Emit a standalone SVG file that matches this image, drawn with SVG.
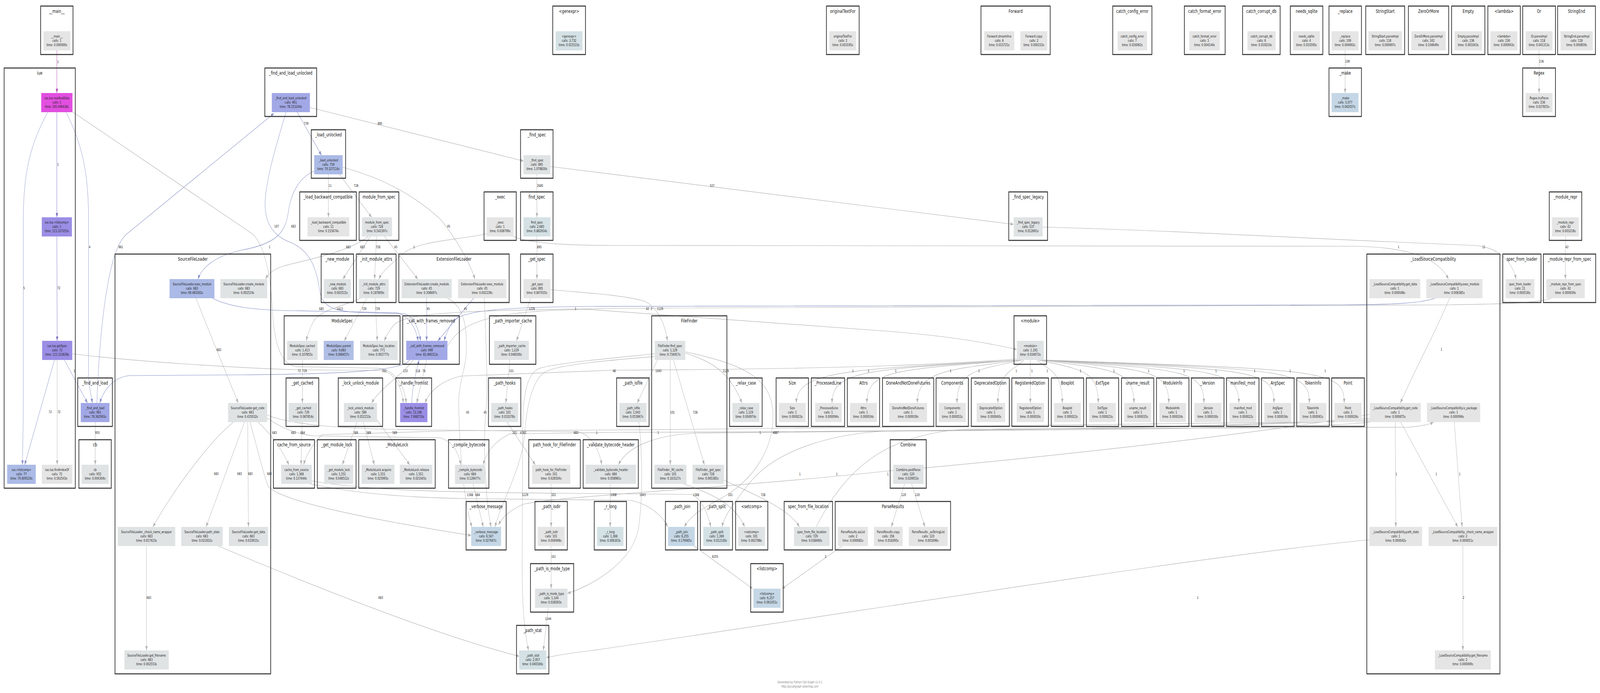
<svg xmlns="http://www.w3.org/2000/svg" width="5963" height="1773" viewBox="0 0 5963 1773" preserveAspectRatio="none" style="width:100%;height:100%;display:block">
<style>
.cl{fill:none;stroke:#333;stroke-width:2.6}
.ct{font-family:"DejaVu Sans",Verdana,sans-serif;font-size:13px;text-anchor:middle;fill:#111}
.nt{font-family:"DejaVu Sans",Verdana,sans-serif;font-size:9.4px;text-anchor:middle;fill:#222}
.el{font-family:"DejaVu Sans",Verdana,sans-serif;font-size:9px;text-anchor:middle;fill:#111}
.ft{font-family:"DejaVu Sans",Verdana,sans-serif;font-size:8.5px;text-anchor:middle;fill:#888}
.e{fill:none;stroke-width:1.2}
.eg{stroke:#b3b3b3;marker-end:url(#ag)}
.eb{stroke:#8891c6;marker-end:url(#ab)}
.ep{stroke:#7c70c2;marker-end:url(#ap)}
.em{stroke:#b64cb3;marker-end:url(#am)}
.g0{fill:#e5e5e5}.g1{fill:#dfe3e4}.g2{fill:#d4e1e5}.g3{fill:#c5d7e6}
.b1{fill:#abbae6}.b2{fill:#a2a8e6}.b3{fill:#b0bee6}.p1{fill:#9b8ee6}.m1{fill:#e24fe0}
</style>
<defs>
<marker id="ag" viewBox="0 0 10 8" refX="10" refY="4" markerWidth="11" markerHeight="9" markerUnits="userSpaceOnUse" orient="auto"><path d="M0,0L10,4L0,8z" fill="#b3b3b3"/></marker>
<marker id="ab" viewBox="0 0 10 8" refX="10" refY="4" markerWidth="11" markerHeight="9" markerUnits="userSpaceOnUse" orient="auto"><path d="M0,0L10,4L0,8z" fill="#8891c6"/></marker>
<marker id="ap" viewBox="0 0 10 8" refX="10" refY="4" markerWidth="11" markerHeight="9" markerUnits="userSpaceOnUse" orient="auto"><path d="M0,0L10,4L0,8z" fill="#7c70c2"/></marker>
<marker id="am" viewBox="0 0 10 8" refX="10" refY="4" markerWidth="11" markerHeight="9" markerUnits="userSpaceOnUse" orient="auto"><path d="M0,0L10,4L0,8z" fill="#b64cb3"/></marker>
</defs>
<rect width="5963" height="1773" fill="#fff"/>
<g id="edges">
<path class="e em" d="M212,129 L212,238"/>
<path class="e ep" d="M212,287 L212,556"/>
<path class="e ep" d="M212,605 L213,872"/>
<path class="e eb" d="M178,287 C120,360 87,430 87,560 L87,1000 C87,1100 84,1150 84,1189"/>
<path class="e eb" d="M246,287 C300,360 330,430 330,560 L330,950 C330,990 340,1010 344,1031"/>
<path class="e eb" d="M203,921 L92,1189"/>
<path class="e eg" d="M213,921 L213,1189"/>
<path class="e eb" d="M240,921 L326,1031"/>
<path class="e eg" d="M270,286 L940,598 C985,625 1008,700 1015,790 C1022,880 1045,928 1100,938 L1410,942 C1475,946 1508,990 1514,1031"/>
<path class="e eg" d="M269,905 C500,925 900,942 1110,946 L1420,948 C1470,952 1498,990 1503,1031"/>
<path class="e eb" d="M361,1031 C368,900 385,760 421,667 C438,630 452,612 470,600 L1021,290"/>
<path class="e eg" d="M355,1080 L355,1189"/>
<path class="e eb" d="M1108,287 L1198,397"/>
<path class="e eg" d="M1155,275 L1951,412"/>
<path class="e eb" d="M1066,287 C1030,370 990,460 988,520 C987,580 1030,605 1075,618 C1160,640 1180,690 1192,745 C1200,790 1260,798 1360,800 L1510,803 C1545,812 1562,845 1567,872"/>
<path class="e eb" d="M1171,438 C1120,452 1085,490 1075,540 C1065,600 1020,625 900,640 C800,655 752,685 738,714"/>
<path class="e eg" d="M1224,446 L1224,556"/>
<path class="e eg" d="M1265,446 L1385,556"/>
<path class="e eg" d="M1277,428 C1450,460 1560,510 1640,560 C1700,610 1750,670 1770,714"/>
<path class="e eg" d="M1372,605 C1300,645 1140,665 1060,680 C1020,688 1000,700 990,714"/>
<path class="e eg" d="M1380,605 L1278,714"/>
<path class="e eg" d="M1403,605 L1396,714"/>
<path class="e eg" d="M1433,605 L1557,714"/>
<path class="e eg" d="M1814,598 C1700,615 1560,615 1500,650 C1450,680 1425,695 1412,714"/>
<path class="e eg" d="M1907,603 C1960,622 2100,628 2300,628 L5050,630 C5250,632 5360,660 5398,714"/>
<path class="e eg" d="M2001,446 L2001,556"/>
<path class="e eg" d="M2001,605 L2001,714"/>
<path class="e eg" d="M2051,426 L3777,574"/>
<path class="e eg" d="M3886,581 C4400,590 5000,615 5500,628 C5600,635 5640,680 5650,714"/>
<path class="e eg" d="M5834,605 L5834,714"/>
<path class="e eg" d="M5013,129 L5013,238"/>
<path class="e eg" d="M5736,129 L5736,238"/>
<path class="e eb" d="M1590,762 L1590,872"/>
<path class="e eb" d="M1766,762 L1632,872"/>
<path class="e eg" d="M1978,762 L1925,872"/>
<path class="e eg" d="M1368,762 L1283,872"/>
<path class="e eg" d="M1398,762 L1406,872"/>
<path class="e eg" d="M1346,762 C1300,780 1200,790 1170,820 C1155,840 1145,858 1142,872"/>
<path class="e eb" d="M790,762 C850,785 950,794 1100,795 L1480,800 C1530,810 1552,845 1558,872"/>
<path class="e eb" d="M5352,762 C5300,776 5200,779 5000,780 L2200,784 C1800,786 1705,800 1682,828 C1668,846 1660,860 1655,872"/>
<path class="e eg" d="M5783,762 C5750,775 5600,778 5400,780 L2500,788 C1700,792 1520,800 1470,830 C1450,845 1440,860 1432,872"/>
<path class="e eg" d="M1668,885 C1720,820 1850,793 2200,792 L3300,847 C3550,860 3700,880 3789,894"/>
<path class="e eg" d="M2051,741 C2150,748 2300,752 2400,770 C2450,785 2480,830 2487,872"/>
<path class="e eg" d="M1127,921 L1127,1031"/>
<path class="e eb" d="M1527,921 C1500,948 1300,957 900,959 L480,961 C420,966 385,1000 372,1031"/>
<path class="e eb" d="M1535,1031 C1535,990 1552,950 1562,921"/>
<path class="e eg" d="M1590,921 L1553,1031"/>
<path class="e eg" d="M1540,921 C1500,960 1420,990 1385,1031"/>
<path class="e eg" d="M3790,918 C3500,935 3000,945 2289,947 L1720,962 C1650,972 1600,1000 1584,1031"/>
<path class="e eg" d="M1900,921 L1885,1031"/>
<path class="e eg" d="M2450,921 L2375,1031"/>
<path class="e eg" d="M2554,903 C2650,925 2720,950 2765,1031"/>
<path class="e eg" d="M3800,921 C3178.6,946 2968,946 2968,1031"/>
<path class="e eg" d="M3800,921 C3236.8,946 3101,946 3101,1031"/>
<path class="e eg" d="M3800,921 C3338.6,946 3231,946 3231,1031"/>
<path class="e eg" d="M3805,921 C3542.7,946 3419,946 3419,1031"/>
<path class="e eg" d="M3810,921 C3648.6,946 3566.6,946 3566.6,1031"/>
<path class="e eg" d="M3815,921 C3787.6,946 3719,946 3719,1031"/>
<path class="e eg" d="M3840,921 L3840,1031"/>
<path class="e eg" d="M3865,921 C3903,946 3959,946 3959,1031"/>
<path class="e eg" d="M3870,921 C4027,946 4093,946 4093,1031"/>
<path class="e eg" d="M3875,921 C4151.6,946 4226,946 4226,1031"/>
<path class="e eg" d="M3880,921 C4280.7,946 4356,946 4356,1031"/>
<path class="e eg" d="M3880,921 C4412.8,946 4486.7,946 4486.7,1031"/>
<path class="e eg" d="M3880,921 C4532,946 4617,946 4617,1031"/>
<path class="e eg" d="M3880,921 C4676,946 4748,946 4748,1031"/>
<path class="e eg" d="M3880,921 C4808,946 4879.6,946 4879.6,1031"/>
<path class="e eg" d="M3880,921 C4938.8,946 5009.7,946 5009.7,1031"/>
<path class="e eg" d="M730,762 C780,850 840,950 888,1031"/>
<path class="e eg" d="M962,1080 C1010,1110 1050,1150 1077,1189"/>
<path class="e eg" d="M1126,1080 L1122,1189"/>
<path class="e eg" d="M996,1070 C1050,1095 1100,1110 1170,1115 L1640,1120 C1690,1130 1710,1160 1717,1189"/>
<path class="e eg" d="M996,1062 C1100,1090 1300,1098 1600,1100 L2150,1104 C2200,1110 2235,1150 2242,1189"/>
<path class="e eg" d="M932,1080 C960,1150 985,1220 1000,1245 C1050,1280 1300,1320 1756,1370"/>
<path class="e eg" d="M870,1080 C780,1130 650,1250 570,1348"/>
<path class="e eg" d="M911,1080 L768,1348"/>
<path class="e eg" d="M923,1080 L926,1348"/>
<path class="e eg" d="M546,1396 L546,1664"/>
<path class="e eg" d="M810,1396 C1100,1480 1600,1620 1935,1679"/>
<path class="e eg" d="M1330,1080 L1276,1189"/>
<path class="e eg" d="M1354,1080 L1395,1189"/>
<path class="e eg" d="M1404,1074 L1527,1189"/>
<path class="e eg" d="M1665,762 C1720,780 1742,820 1738,900 C1735,950 1705,980 1710,1050 C1712,1150 1730,1290 1759,1348"/>
<path class="e eg" d="M1805,762 C1812,900 1820,1000 1810,1055 C1800,1150 1810,1280 1830,1348"/>
<path class="e eg" d="M1763,1237 L1801,1348"/>
<path class="e eg" d="M1150,1237 C1300,1260 1500,1275 1800,1276 L2350,1280 C2420,1290 2470,1320 2488,1348"/>
<path class="e eg" d="M1160,1230 C1350,1255 1700,1260 2100,1262 L2580,1265 C2620,1280 2640,1320 2649,1348"/>
<path class="e eg" d="M2441,905 C2300,915 2050,930 2005,944 C1960,960 1948,1020 1948,1100 L1946,1450 C1946,1550 1955,1620 1970,1664"/>
<path class="e eg" d="M2441,912 C2300,920 2080,932 2030,952 C1980,975 1962,1050 1955,1110 C1945,1200 1870,1280 1845,1348"/>
<path class="e eg" d="M1890,1080 L1995,1189"/>
<path class="e eg" d="M2054,1237 L2054,1348"/>
<path class="e eg" d="M2054,1396 L2054,1506"/>
<path class="e eg" d="M2043,1555 L2025,1664"/>
<path class="e eg" d="M2381,1080 C2390,1130 2400,1250 2380,1350 C2360,1440 2200,1500 2115,1518"/>
<path class="e eg" d="M5104,1381 C4500,1420 3300,1555 2200,1665 C2100,1672 2060,1680 2036,1682"/>
<path class="e eg" d="M2274,1237 L2274,1348"/>
<path class="e eg" d="M2498,921 L2498,1189"/>
<path class="e eg" d="M2510,921 L2625,1189"/>
<path class="e eg" d="M2554,900 C2750,930 2870,960 2880,1050 C2890,1150 2800,1230 2700,1270 C2620,1300 2570,1320 2551,1348"/>
<path class="e eg" d="M2544,1237 C2650,1262 2740,1290 2775,1348"/>
<path class="e eg" d="M2698,1228 C2800,1262 2940,1300 2979,1348"/>
<path class="e eg" d="M2585,1396 L2805,1506"/>
<path class="e eg" d="M3140,1396 L2915,1506"/>
<path class="e eg" d="M3372,1237 L3322,1348"/>
<path class="e eg" d="M3397,1237 L3447,1348"/>
<path class="e eg" d="M3042,1348 C3150,1200 3300,1110 3600,1098 L5250,1093 C5300,1090 5330,1085 5342,1080"/>
<path class="e eg" d="M5110,1079 C5000,1095 4000,1100 3300,1103 C3100,1110 2900,1150 2800,1230 C2730,1290 2700,1320 2691,1348"/>
<path class="e eg" d="M5108,1078 C4500,1092 3000,1098 1700,1102 L1200,1112 C1160,1140 1138,1170 1132,1189"/>
<path class="e eg" d="M5108,1074 C4500,1098 3000,1105 2600,1108 C2450,1112 2340,1140 2305,1189"/>
<path class="e eg" d="M5108,1070 C4500,1100 3000,1105 2300,1106 L1900,1110 C1840,1130 1810,1160 1801,1189"/>
<path class="e eg" d="M5106,1060 C4600,1120 3600,1190 3309,1205 C2700,1250 2100,1268 1950,1290 C1900,1305 1870,1325 1858,1343"/>
<path class="e eg" d="M5403,762 C5350,850 5270,950 5219,1031"/>
<path class="e eg" d="M5200,1080 L5202,1348"/>
<path class="e eg" d="M5220,1080 L5433,1348"/>
<path class="e eg" d="M5420,1080 L5449,1348"/>
<path class="e eg" d="M5452,1396 L5452,1664"/>
<g id="edge-labels">
<text class="el" x="216" y="161">1</text><text class="el" x="216" y="424">1</text><text class="el" x="219" y="740">72</text><text class="el" x="90" y="740">5</text><text class="el" x="334" y="635">4</text><text class="el" x="187" y="1057">72</text><text class="el" x="220" y="1057">72</text><text class="el" x="277" y="952">1</text><text class="el" x="1005" y="635">1</text><text class="el" x="1115" y="952">72</text><text class="el" x="450" y="635">961</text><text class="el" x="363" y="1110">955</text>
<text class="el" x="1141" y="319">739</text><text class="el" x="1416" y="319">895</text><text class="el" x="1031" y="582">107</text><text class="el" x="1094" y="582">683</text><text class="el" x="1230" y="478">11</text><text class="el" x="1327" y="478">728</text><text class="el" x="1672" y="582">45</text><text class="el" x="1298" y="635">683</text><text class="el" x="1351" y="635">683</text><text class="el" x="1409" y="635">728</text><text class="el" x="1475" y="635">45</text><text class="el" x="1543" y="635">1</text><text class="el" x="5212" y="635">1</text><text class="el" x="2013" y="478">2685</text><text class="el" x="2010" y="635">895</text><text class="el" x="2654" y="478">537</text><text class="el" x="5530" y="635">11</text><text class="el" x="5840" y="635">42</text><text class="el" x="5022" y="160">109</text><text class="el" x="5745" y="160">236</text>
<text class="el" x="1596" y="793">45</text><text class="el" x="1735" y="793">45</text><text class="el" x="1982" y="793">1229</text><text class="el" x="1357" y="793">729</text><text class="el" x="1407" y="793">729</text><text class="el" x="1266" y="793">1413</text><text class="el" x="1198" y="793">683</text><text class="el" x="2145" y="793">1</text><text class="el" x="2413" y="793">42</text><text class="el" x="2428" y="793">3</text><text class="el" x="2460" y="793">1129</text>
<text class="el" x="1135" y="952">729</text><text class="el" x="1432" y="952">355</text><text class="el" x="1557" y="952">118</text><text class="el" x="1580" y="952">76</text><text class="el" x="1511" y="952">133</text><text class="el" x="2289" y="952">48</text><text class="el" x="1906" y="952">101</text><text class="el" x="2454" y="952">1043</text><text class="el" x="2705" y="952">1129</text>
<text class="el" x="3178.6" y="952">1</text><text class="el" x="3236.8" y="952">1</text><text class="el" x="3338.6" y="952">1</text><text class="el" x="3542.7" y="952">1</text><text class="el" x="3648.6" y="952">1</text><text class="el" x="3787.6" y="952">1</text><text class="el" x="3846" y="952">1</text><text class="el" x="3903" y="952">1</text><text class="el" x="4027" y="952">1</text><text class="el" x="4151.6" y="952">1</text><text class="el" x="4280.7" y="952">1</text><text class="el" x="4412.8" y="952">1</text><text class="el" x="4532" y="952">1</text><text class="el" x="4676" y="952">1</text><text class="el" x="4808" y="952">1</text><text class="el" x="4938.8" y="952">1</text>
<text class="el" x="816" y="898">683</text><text class="el" x="1023" y="1110">683</text><text class="el" x="1128" y="1110">684</text><text class="el" x="1094" y="1110">683</text><text class="el" x="2147" y="1110">683</text><text class="el" x="1004" y="1215">683</text><text class="el" x="806" y="1215">683</text><text class="el" x="893" y="1215">683</text><text class="el" x="933" y="1215">683</text><text class="el" x="555" y="1532">683</text><text class="el" x="1419" y="1532">683</text>
<text class="el" x="1326" y="1110">589</text><text class="el" x="1374" y="1110">589</text><text class="el" x="1471" y="1110">589</text><text class="el" x="1743" y="1058">45</text><text class="el" x="1808" y="1058">45</text><text class="el" x="1780" y="1269">684</text><text class="el" x="1752" y="1269">1368</text><text class="el" x="2594" y="1269">1368</text><text class="el" x="1957" y="1269">1129</text><text class="el" x="1950" y="1110">4362</text><text class="el" x="1918" y="1110">101</text><text class="el" x="2063" y="1269">101</text><text class="el" x="2063" y="1427">101</text><text class="el" x="2043" y="1586">1144</text><text class="el" x="2395" y="1269">1043</text><text class="el" x="4464" y="1532">1</text><text class="el" x="2286" y="1269">1368</text>
<text class="el" x="2506" y="1058">101</text><text class="el" x="2591" y="1058">728</text><text class="el" x="2891" y="1110">4887</text><text class="el" x="2722" y="1269">101</text><text class="el" x="2844" y="1269">728</text><text class="el" x="2665" y="1427">6255</text><text class="el" x="3077" y="1427">2</text><text class="el" x="3368" y="1269">120</text><text class="el" x="3419" y="1269">120</text><text class="el" x="3119" y="1216">1</text><text class="el" x="2981" y="1216">1</text><text class="el" x="2224" y="1110">1</text><text class="el" x="2453" y="1110">1</text><text class="el" x="2833" y="1110">1</text><text class="el" x="3309" y="1216">1</text><text class="el" x="5372" y="897">1</text><text class="el" x="5204" y="1216">1</text><text class="el" x="5353" y="1216">1</text><text class="el" x="5440" y="1216">1</text><text class="el" x="5454" y="1532">2</text>
</g>
</g>
<g id="c-main"><rect class="cl" x="151.5" y="15.5" width="120.5" height="124"/><text class="ct" x="211.8" y="33">__main__</text><g id="n-main"><rect class="g0" x="162" y="80" width="100" height="49"/><text class="nt" x="212" y="95.7">__main__<tspan x="212" dy="11.2">calls: 1</tspan><tspan x="212" dy="11.2">time: 0.000000s</tspan></text></g></g>
<g id="c-genexpr"><rect class="cl" x="2060" y="15.5" width="122" height="124"/><text class="ct" x="2121" y="33">&lt;genexpr&gt;</text><g id="n-genexpr"><rect class="g2" x="2071" y="80" width="100" height="49"/><text class="nt" x="2121" y="95.7">&lt;genexpr&gt;<tspan x="2121" dy="11.2">calls: 3,732</tspan><tspan x="2121" dy="11.2">time: 0.015533s</tspan></text></g></g>
<g id="c-originalTextFor"><rect class="cl" x="3080" y="15.5" width="122" height="124"/><text class="ct" x="3141" y="33">originalTextFor</text><g id="n-originalTextFor"><rect class="g0" x="3091" y="80" width="100" height="49"/><text class="nt" x="3141" y="95.7">originalTextFor<tspan x="3141" dy="11.2">calls: 2</tspan><tspan x="3141" dy="11.2">time: 0.003195s</tspan></text></g></g>
<g id="c-Forward"><rect class="cl" x="3656" y="15.5" width="258" height="124"/><text class="ct" x="3785" y="33">Forward</text>
<g id="n-Forward-streamline"><rect class="g0" x="3668" y="80" width="112" height="49"/><text class="nt" x="3724" y="95.7">Forward.streamline<tspan x="3724" dy="11.2">calls: 6</tspan><tspan x="3724" dy="11.2">time: 0.015721s</tspan></text></g>
<g id="n-Forward-copy"><rect class="g0" x="3803" y="80" width="100" height="49"/><text class="nt" x="3853" y="95.7">Forward.copy<tspan x="3853" dy="11.2">calls: 2</tspan><tspan x="3853" dy="11.2">time: 0.000233s</tspan></text></g></g>
<g id="c-catch_config_error"><rect class="cl" x="4147" y="15.5" width="146" height="124"/><text class="ct" x="4220" y="33">catch_config_error</text><g id="n-catch_config_error"><rect class="g0" x="4165" y="80" width="110" height="49"/><text class="nt" x="4220" y="95.7">catch_config_error<tspan x="4220" dy="11.2">calls: 7</tspan><tspan x="4220" dy="11.2">time: 0.016062s</tspan></text></g></g>
<g id="c-catch_format_error"><rect class="cl" x="4414" y="15.5" width="152" height="124"/><text class="ct" x="4490" y="33">catch_format_error</text><g id="n-catch_format_error"><rect class="g0" x="4432" y="80" width="114" height="49"/><text class="nt" x="4489" y="95.7">catch_format_error<tspan x="4489" dy="11.2">calls: 3</tspan><tspan x="4489" dy="11.2">time: 0.004144s</tspan></text></g></g>
<g id="c-catch_corrupt_db"><rect class="cl" x="4631" y="15.5" width="140" height="124"/><text class="ct" x="4701" y="33">catch_corrupt_db</text><g id="n-catch_corrupt_db"><rect class="g0" x="4649" y="80" width="105" height="49"/><text class="nt" x="4701.5" y="95.7">catch_corrupt_db<tspan x="4701.5" dy="11.2">calls: 6</tspan><tspan x="4701.5" dy="11.2">time: 0.019210s</tspan></text></g></g>
<g id="c-needs_sqlite"><rect class="cl" x="4809" y="15.5" width="121" height="124"/><text class="ct" x="4869.5" y="33">needs_sqlite</text><g id="n-needs_sqlite"><rect class="g0" x="4819" y="80" width="100" height="49"/><text class="nt" x="4869" y="95.7">needs_sqlite<tspan x="4869" dy="11.2">calls: 4</tspan><tspan x="4869" dy="11.2">time: 0.010595s</tspan></text></g></g>
<g id="c-_replace"><rect class="cl" x="4953" y="15.5" width="121" height="124"/><text class="ct" x="5013.5" y="33">_replace</text><g id="n-_replace"><rect class="g0" x="4963" y="80" width="100" height="49"/><text class="nt" x="5013" y="95.7">_replace<tspan x="5013" dy="11.2">calls: 109</tspan><tspan x="5013" dy="11.2">time: 0.004692s</tspan></text></g></g>
<g id="c-StringStart"><rect class="cl" x="5090" y="15.5" width="145" height="124"/><text class="ct" x="5162.5" y="33">StringStart</text><g id="n-StringStart"><rect class="g0" x="5100" y="80" width="125" height="49"/><text class="nt" x="5162.5" y="95.7">StringStart.parseImpl<tspan x="5162.5" dy="11.2">calls: 118</tspan><tspan x="5162.5" dy="11.2">time: 0.000697s</tspan></text></g></g>
<g id="c-ZeroOrMore"><rect class="cl" x="5249" y="15.5" width="150" height="124"/><text class="ct" x="5324" y="33">ZeroOrMore</text><g id="n-ZeroOrMore"><rect class="g0" x="5260" y="80" width="128" height="49"/><text class="nt" x="5324" y="95.7">ZeroOrMore.parseImpl<tspan x="5324" dy="11.2">calls: 242</tspan><tspan x="5324" dy="11.2">time: 0.104649s</tspan></text></g></g>
<g id="c-Empty"><rect class="cl" x="5410" y="15.5" width="124" height="124"/><text class="ct" x="5472" y="33">Empty</text><g id="n-Empty"><rect class="g0" x="5421" y="80" width="102" height="49"/><text class="nt" x="5472" y="95.7">Empty.parseImpl<tspan x="5472" dy="11.2">calls: 236</tspan><tspan x="5472" dy="11.2">time: 0.001043s</tspan></text></g></g>
<g id="c-lambda"><rect class="cl" x="5545" y="15.5" width="121" height="124"/><text class="ct" x="5605.5" y="33">&lt;lambda&gt;</text><g id="n-lambda"><rect class="g0" x="5555" y="80" width="100" height="49"/><text class="nt" x="5605" y="95.7">&lt;lambda&gt;<tspan x="5605" dy="11.2">calls: 236</tspan><tspan x="5605" dy="11.2">time: 0.000943s</tspan></text></g></g>
<g id="c-Or"><rect class="cl" x="5675" y="15.5" width="122" height="124"/><text class="ct" x="5736" y="33">Or</text><g id="n-Or"><rect class="g0" x="5686" y="80" width="100" height="49"/><text class="nt" x="5736" y="95.7">Or.parseImpl<tspan x="5736" dy="11.2">calls: 118</tspan><tspan x="5736" dy="11.2">time: 0.041313s</tspan></text></g></g>
<g id="c-StringEnd"><rect class="cl" x="5805" y="15.5" width="141" height="124"/><text class="ct" x="5875.5" y="33">StringEnd</text><g id="n-StringEnd"><rect class="g0" x="5816" y="80" width="120" height="49"/><text class="nt" x="5876" y="95.7">StringEnd.parseImpl<tspan x="5876" dy="11.2">calls: 118</tspan><tspan x="5876" dy="11.2">time: 0.000859s</tspan></text></g></g>
<g id="c-iue"><rect class="cl" x="15.4" y="174" width="265.2" height="1075"/><text class="ct" x="148" y="191.5">iue</text>
<g id="n-readIueData"><rect class="m1" x="153.6" y="238" width="116.4" height="49"/><text class="nt" x="211.8" y="253.7">iue.Iue.readIueData<tspan x="211.8" dy="11.2">calls: 1</tspan><tspan x="211.8" dy="11.2">time: 195.096438s</tspan></text></g>
<g id="n-Iue-listcomp"><rect class="p1" x="155.7" y="556" width="112.3" height="49"/><text class="nt" x="211.85" y="571.7">iue.Iue.&lt;listcomp&gt;<tspan x="211.85" dy="11.2">calls: 1</tspan><tspan x="211.85" dy="11.2">time: 115.327053s</tspan></text></g>
<g id="n-getSpec"><rect class="p1" x="157" y="872" width="112.4" height="49"/><text class="nt" x="213.2" y="887.7">iue.Iue.getSpec<tspan x="213.2" dy="11.2">calls: 72</tspan><tspan x="213.2" dy="11.2">time: 115.323838s</tspan></text></g>
<g id="n-iue-listcomp"><rect class="b1" x="26.7" y="1189" width="106.6" height="49"/><text class="nt" x="80" y="1204.7">iue.&lt;listcomp&gt;<tspan x="80" dy="11.2">calls: 77</tspan><tspan x="80" dy="11.2">time: 70.609120s</tspan></text></g>
<g id="n-findIndexOf"><rect class="g0" x="155.7" y="1189" width="113.7" height="49"/><text class="nt" x="212.55" y="1204.7">iue.Iue.findIndexOf<tspan x="212.55" dy="11.2">calls: 72</tspan><tspan x="212.55" dy="11.2">time: 0.562543s</tspan></text></g></g>
<g id="c-_find_and_load_unlocked"><rect class="cl" x="987" y="174" width="193" height="124"/><text class="ct" x="1083.5" y="191.5">_find_and_load_unlocked</text><g id="n-_find_and_load_unlocked"><rect class="b2" x="1013" y="238" width="142" height="49"/><text class="nt" x="1084" y="253.7">_find_and_load_unlocked<tspan x="1084" dy="11.2">calls: 961</tspan><tspan x="1084" dy="11.2">time: 78.153244s</tspan></text></g></g>
<g id="c-_make"><rect class="cl" x="4953" y="174" width="121" height="124"/><text class="ct" x="5013.5" y="191.5">_make</text><g id="n-_make"><rect class="g3" x="4963" y="238" width="100" height="49"/><text class="nt" x="5013" y="253.7">_make<tspan x="5013" dy="11.2">calls: 5,077</tspan><tspan x="5013" dy="11.2">time: 0.042037s</tspan></text></g></g>
<g id="c-Regex"><rect class="cl" x="5675" y="174" width="122" height="124"/><text class="ct" x="5736" y="191.5">Regex</text><g id="n-Regex"><rect class="g0" x="5686" y="238" width="100" height="49"/><text class="nt" x="5736" y="253.7">Regex.tryParse<tspan x="5736" dy="11.2">calls: 236</tspan><tspan x="5736" dy="11.2">time: 0.027855s</tspan></text></g></g>
<g id="c-_load_unlocked"><rect class="cl" x="1160" y="332" width="128" height="124"/><text class="ct" x="1224" y="349.5">_load_unlocked</text><g id="n-_load_unlocked"><rect class="b1" x="1171" y="397" width="106" height="49"/><text class="nt" x="1224" y="412.7">_load_unlocked<tspan x="1224" dy="11.2">calls: 739</tspan><tspan x="1224" dy="11.2">time: 70.327114s</tspan></text></g></g>
<g id="c-_find_spec"><rect class="cl" x="1940" y="332" width="121" height="124"/><text class="ct" x="2000.5" y="349.5">_find_spec</text><g id="n-_find_spec"><rect class="g1" x="1951" y="397" width="100" height="49"/><text class="nt" x="2001" y="412.7">_find_spec<tspan x="2001" dy="11.2">calls: 895</tspan><tspan x="2001" dy="11.2">time: 1.078830s</tspan></text></g></g>
<g id="c-_load_backward_compatible"><rect class="cl" x="1117" y="491" width="211" height="124"/><text class="ct" x="1222.5" y="508.5">_load_backward_compatible</text><g id="n-_load_backward_compatible"><rect class="g0" x="1146" y="556" width="156" height="49"/><text class="nt" x="1224" y="571.7">_load_backward_compatible<tspan x="1224" dy="11.2">calls: 11</tspan><tspan x="1224" dy="11.2">time: 0.155674s</tspan></text></g></g>
<g id="c-module_from_spec"><rect class="cl" x="1338.5" y="491" width="148" height="124"/><text class="ct" x="1412.5" y="508.5">module_from_spec</text><g id="n-module_from_spec"><rect class="g1" x="1349" y="556" width="112" height="49"/><text class="nt" x="1405" y="571.7">module_from_spec<tspan x="1405" dy="11.2">calls: 728</tspan><tspan x="1405" dy="11.2">time: 0.542397s</tspan></text></g></g>
<g id="c-_exec"><rect class="cl" x="1804" y="491" width="120" height="124"/><text class="ct" x="1864" y="508.5">_exec</text><g id="n-_exec"><rect class="g0" x="1814" y="556" width="100" height="49"/><text class="nt" x="1864" y="571.7">_exec<tspan x="1864" dy="11.2">calls: 1</tspan><tspan x="1864" dy="11.2">time: 0.008799s</tspan></text></g></g>
<g id="c-find_spec"><rect class="cl" x="1940" y="491" width="121" height="124"/><text class="ct" x="2000.5" y="508.5">find_spec</text><g id="n-find_spec"><rect class="g2" x="1951" y="556" width="100" height="49"/><text class="nt" x="2001" y="571.7">find_spec<tspan x="2001" dy="11.2">calls: 2,685</tspan><tspan x="2001" dy="11.2">time: 0.882934s</tspan></text></g></g>
<g id="c-_find_spec_legacy"><rect class="cl" x="3759.5" y="491" width="144.5" height="124"/><text class="ct" x="3831.75" y="508.5">_find_spec_legacy</text><g id="n-_find_spec_legacy"><rect class="g1" x="3778" y="556" width="108" height="49"/><text class="nt" x="3832" y="571.7">_find_spec_legacy<tspan x="3832" dy="11.2">calls: 537</tspan><tspan x="3832" dy="11.2">time: 0.012691s</tspan></text></g></g>
<g id="c-_module_repr"><rect class="cl" x="5774" y="491" width="121" height="124"/><text class="ct" x="5834.5" y="508.5">_module_repr</text><g id="n-_module_repr"><rect class="g0" x="5784" y="556" width="100" height="49"/><text class="nt" x="5834" y="571.7">_module_repr<tspan x="5834" dy="11.2">calls: 42</tspan><tspan x="5834" dy="11.2">time: 0.003218s</tspan></text></g></g>
<g id="c-SourceFileLoader"><rect class="cl" x="428.6" y="650" width="580.2" height="1074"/><text class="ct" x="718.7" y="667.5">SourceFileLoader</text>
<g id="n-SFL-exec_module"><rect class="b1" x="632" y="714" width="167" height="49"/><text class="nt" x="715.5" y="729.7">SourceFileLoader.exec_module<tspan x="715.5" dy="11.2">calls: 683</tspan><tspan x="715.5" dy="11.2">time: 69.481002s</tspan></text></g>
<g id="n-SFL-create_module"><rect class="g1" x="821.5" y="714" width="174.5" height="49"/><text class="nt" x="908.75" y="729.7">SourceFileLoader.create_module<tspan x="908.75" dy="11.2">calls: 683</tspan><tspan x="908.75" dy="11.2">time: 0.002519s</tspan></text></g>
<g id="n-SFL-get_code"><rect class="g1" x="850" y="1031" width="146" height="49"/><text class="nt" x="923" y="1046.7">SourceFileLoader.get_code<tspan x="923" dy="11.2">calls: 683</tspan><tspan x="923" dy="11.2">time: 0.435032s</tspan></text></g>
<g id="n-SFL-_check_name_wrapper"><rect class="g1" x="439" y="1348" width="214" height="49"/><text class="nt" x="546" y="1363.7">SourceFileLoader._check_name_wrapper<tspan x="546" dy="11.2">calls: 683</tspan><tspan x="546" dy="11.2">time: 0.017423s</tspan></text></g>
<g id="n-SFL-path_stats"><rect class="g1" x="675.6" y="1348" width="154.4" height="49"/><text class="nt" x="752.8" y="1363.7">SourceFileLoader.path_stats<tspan x="752.8" dy="11.2">calls: 683</tspan><tspan x="752.8" dy="11.2">time: 0.021652s</tspan></text></g>
<g id="n-SFL-get_data"><rect class="g1" x="853" y="1348" width="146" height="49"/><text class="nt" x="926" y="1363.7">SourceFileLoader.get_data<tspan x="926" dy="11.2">calls: 683</tspan><tspan x="926" dy="11.2">time: 0.033915s</tspan></text></g>
<g id="n-SFL-get_filename"><rect class="g1" x="463.7" y="1664" width="165.3" height="49"/><text class="nt" x="546.35" y="1679.7">SourceFileLoader.get_filename<tspan x="546.35" dy="11.2">calls: 683</tspan><tspan x="546.35" dy="11.2">time: 0.002553s</tspan></text></g></g>
<g id="c-_new_module"><rect class="cl" x="1197" y="650" width="120.5" height="124"/><text class="ct" x="1257.25" y="667.5">_new_module</text><g id="n-_new_module"><rect class="g1" x="1207" y="714" width="100.6" height="49"/><text class="nt" x="1257.3" y="729.7">_new_module<tspan x="1257.3" dy="11.2">calls: 683</tspan><tspan x="1257.3" dy="11.2">time: 0.003515s</tspan></text></g></g>
<g id="c-_init_module_attrs"><rect class="cl" x="1328" y="650" width="148" height="124"/><text class="ct" x="1402" y="667.5">_init_module_attrs</text><g id="n-_init_module_attrs"><rect class="g1" x="1338" y="714" width="110.6" height="49"/><text class="nt" x="1393.3" y="729.7">_init_module_attrs<tspan x="1393.3" dy="11.2">calls: 729</tspan><tspan x="1393.3" dy="11.2">time: 0.187809s</tspan></text></g></g>
<g id="c-ExtensionFileLoader"><rect class="cl" x="1486.5" y="650" width="411.1" height="124"/><text class="ct" x="1692" y="667.5">ExtensionFileLoader</text>
<g id="n-EFL-create_module"><rect class="g1" x="1497" y="714" width="186.6" height="49"/><text class="nt" x="1590.3" y="729.7">ExtensionFileLoader.create_module<tspan x="1590.3" dy="11.2">calls: 45</tspan><tspan x="1590.3" dy="11.2">time: 0.308697s</tspan></text></g>
<g id="n-EFL-exec_module"><rect class="g0" x="1707" y="714" width="180" height="49"/><text class="nt" x="1797" y="729.7">ExtensionFileLoader.exec_module<tspan x="1797" dy="11.2">calls: 45</tspan><tspan x="1797" dy="11.2">time: 0.002239s</tspan></text></g></g>
<g id="c-_get_spec"><rect class="cl" x="1940" y="650" width="121" height="124"/><text class="ct" x="2000.5" y="667.5">_get_spec</text><g id="n-_get_spec"><rect class="g0" x="1951" y="714" width="100" height="49"/><text class="nt" x="2001" y="729.7">_get_spec<tspan x="2001" dy="11.2">calls: 895</tspan><tspan x="2001" dy="11.2">time: 0.847035s</tspan></text></g></g>
<g id="c-_LoadSourceCompatibility"><rect class="cl" x="5094" y="650" width="496" height="1074"/><text class="ct" x="5342" y="667.5">_LoadSourceCompatibility</text>
<g id="n-LSC-get_data"><rect class="g0" x="5104" y="714" width="189" height="49"/><text class="nt" x="5198.5" y="729.7">_LoadSourceCompatibility.get_data<tspan x="5198.5" dy="11.2">calls: 1</tspan><tspan x="5198.5" dy="11.2">time: 0.000048s</tspan></text></g>
<g id="n-LSC-exec_module"><rect class="g0" x="5315.6" y="714" width="209.1" height="49"/><text class="nt" x="5420.15" y="729.7">_LoadSourceCompatibility.exec_module<tspan x="5420.15" dy="11.2">calls: 1</tspan><tspan x="5420.15" dy="11.2">time: 0.008385s</tspan></text></g>
<g id="n-LSC-get_code"><rect class="g0" x="5105" y="1031" width="190" height="49"/><text class="nt" x="5200" y="1046.7">_LoadSourceCompatibility.get_code<tspan x="5200" dy="11.2">calls: 1</tspan><tspan x="5200" dy="11.2">time: 0.000875s</tspan></text></g>
<g id="n-LSC-is_package"><rect class="g0" x="5318" y="1031" width="198.6" height="49"/><text class="nt" x="5417.3" y="1046.7">_LoadSourceCompatibility.is_package<tspan x="5417.3" dy="11.2">calls: 1</tspan><tspan x="5417.3" dy="11.2">time: 0.000096s</tspan></text></g>
<g id="n-LSC-path_stats"><rect class="g0" x="5104" y="1348" width="196" height="49"/><text class="nt" x="5202" y="1363.7">_LoadSourceCompatibility.path_stats<tspan x="5202" dy="11.2">calls: 1</tspan><tspan x="5202" dy="11.2">time: 0.000042s</tspan></text></g>
<g id="n-LSC-_check_name_wrapper"><rect class="g0" x="5324" y="1348" width="256" height="49"/><text class="nt" x="5452" y="1363.7">_LoadSourceCompatibility._check_name_wrapper<tspan x="5452" dy="11.2">calls: 2</tspan><tspan x="5452" dy="11.2">time: 0.000051s</tspan></text></g>
<g id="n-LSC-get_filename"><rect class="g0" x="5347.7" y="1664" width="208.3" height="49"/><text class="nt" x="5451.85" y="1679.7">_LoadSourceCompatibility.get_filename<tspan x="5451.85" dy="11.2">calls: 2</tspan><tspan x="5451.85" dy="11.2">time: 0.000009s</tspan></text></g></g>
<g id="c-spec_from_loader"><rect class="cl" x="5600.7" y="650" width="142.3" height="124"/><text class="ct" x="5671.85" y="667.5">spec_from_loader</text><g id="n-spec_from_loader"><rect class="g0" x="5611.5" y="714" width="107.1" height="49"/><text class="nt" x="5665" y="729.7">spec_from_loader<tspan x="5665" dy="11.2">calls: 11</tspan><tspan x="5665" dy="11.2">time: 0.000530s</tspan></text></g></g>
<g id="c-_module_repr_from_spec"><rect class="cl" x="5752" y="650" width="195" height="124"/><text class="ct" x="5849.5" y="667.5">_module_repr_from_spec</text><g id="n-_module_repr_from_spec"><rect class="g0" x="5763" y="714" width="143" height="49"/><text class="nt" x="5834.5" y="729.7">_module_repr_from_spec<tspan x="5834.5" dy="11.2">calls: 42</tspan><tspan x="5834.5" dy="11.2">time: 0.000939s</tspan></text></g></g>
<g id="c-ModuleSpec"><rect class="cl" x="1059" y="808" width="432" height="124"/><text class="ct" x="1275" y="825.5">ModuleSpec</text>
<g id="n-ModuleSpec-cached"><rect class="g1" x="1070" y="872" width="113.5" height="49"/><text class="nt" x="1126.75" y="887.7">ModuleSpec.cached<tspan x="1126.75" dy="11.2">calls: 1,413</tspan><tspan x="1126.75" dy="11.2">time: 0.107855s</tspan></text></g>
<g id="n-ModuleSpec-parent"><rect class="b3" x="1206.6" y="872" width="111.4" height="49"/><text class="nt" x="1262.3" y="887.7">ModuleSpec.parent<tspan x="1262.3" dy="11.2">calls: 9,883</tspan><tspan x="1262.3" dy="11.2">time: 0.066457s</tspan></text></g>
<g id="n-ModuleSpec-has_location"><rect class="g1" x="1342" y="872" width="139.6" height="49"/><text class="nt" x="1411.8" y="887.7">ModuleSpec.has_location<tspan x="1411.8" dy="11.2">calls: 771</tspan><tspan x="1411.8" dy="11.2">time: 0.002777s</tspan></text></g></g>
<g id="c-_call_with_frames_removed"><rect class="cl" x="1501" y="808" width="210.7" height="124"/><text class="ct" x="1606.35" y="825.5">_call_with_frames_removed</text><g id="n-_call_with_frames_removed"><rect class="b2" x="1514" y="872" width="153.5" height="49"/><text class="nt" x="1590.75" y="887.7">_call_with_frames_removed<tspan x="1590.75" dy="11.2">calls: 999</tspan><tspan x="1590.75" dy="11.2">time: 83.466313s</tspan></text></g></g>
<g id="c-_path_importer_cache"><rect class="cl" x="1824" y="808" width="173" height="124"/><text class="ct" x="1910.5" y="825.5">_path_importer_cache</text><g id="n-_path_importer_cache"><rect class="g1" x="1842" y="872" width="129" height="49"/><text class="nt" x="1906.5" y="887.7">_path_importer_cache<tspan x="1906.5" dy="11.2">calls: 1,229</tspan><tspan x="1906.5" dy="11.2">time: 0.046500s</tspan></text></g></g>
<g id="c-FileFinder"><rect class="cl" x="2428.7" y="808" width="280.3" height="441"/><text class="ct" x="2568.85" y="825.5">FileFinder</text>
<g id="n-FileFinder-find_spec"><rect class="g1" x="2440.6" y="872" width="113.4" height="49"/><text class="nt" x="2497.3" y="887.7">FileFinder.find_spec<tspan x="2497.3" dy="11.2">calls: 1,129</tspan><tspan x="2497.3" dy="11.2">time: 0.734917s</tspan></text></g>
<g id="n-FileFinder-_fill_cache"><rect class="g1" x="2439" y="1189" width="119" height="49"/><text class="nt" x="2498.5" y="1204.7">FileFinder._fill_cache<tspan x="2498.5" dy="11.2">calls: 101</tspan><tspan x="2498.5" dy="11.2">time: 0.163127s</tspan></text></g>
<g id="n-FileFinder-_get_spec"><rect class="g1" x="2581" y="1189" width="117" height="49"/><text class="nt" x="2639.5" y="1204.7">FileFinder._get_spec<tspan x="2639.5" dy="11.2">calls: 728</tspan><tspan x="2639.5" dy="11.2">time: 0.065385s</tspan></text></g></g>
<g id="c-module"><rect class="cl" x="3779" y="808" width="121.5" height="124"/><text class="ct" x="3839.75" y="825.5">&lt;module&gt;</text><g id="n-module"><rect class="g1" x="3790" y="872" width="100" height="49"/><text class="nt" x="3840" y="887.7">&lt;module&gt;<tspan x="3840" dy="11.2">calls: 1,191</tspan><tspan x="3840" dy="11.2">time: 0.034072s</tspan></text></g></g>
<g id="c-_find_and_load"><rect class="cl" x="289.7" y="967" width="129.1" height="124"/><text class="ct" x="354.25" y="984.5">_find_and_load</text><g id="n-_find_and_load"><rect class="b2" x="301" y="1031" width="107" height="49"/><text class="nt" x="354.5" y="1046.7">_find_and_load<tspan x="354.5" dy="11.2">calls: 961</tspan><tspan x="354.5" dy="11.2">time: 78.362993s</tspan></text></g></g>
<g id="c-_get_cached"><rect class="cl" x="1066" y="967" width="122" height="124"/><text class="ct" x="1127" y="984.5">_get_cached</text><g id="n-_get_cached"><rect class="g1" x="1076" y="1031" width="108" height="49"/><text class="nt" x="1130" y="1046.7">_get_cached<tspan x="1130" dy="11.2">calls: 729</tspan><tspan x="1130" dy="11.2">time: 0.087854s</tspan></text></g></g>
<g id="c-_lock_unlock_module"><rect class="cl" x="1260.6" y="967" width="165.4" height="124"/><text class="ct" x="1343.3" y="984.5">_lock_unlock_module</text><g id="n-_lock_unlock_module"><rect class="g1" x="1281.7" y="1031" width="123.3" height="49"/><text class="nt" x="1343.35" y="1046.7">_lock_unlock_module<tspan x="1343.35" dy="11.2">calls: 589</tspan><tspan x="1343.35" dy="11.2">time: 0.052153s</tspan></text></g></g>
<g id="c-_handle_fromlist"><rect class="cl" x="1475" y="967" width="133.6" height="124"/><text class="ct" x="1541.8" y="984.5">_handle_fromlist</text><g id="n-_handle_fromlist"><rect class="p1" x="1491.4" y="1031" width="101.6" height="49"/><text class="nt" x="1542.2" y="1046.7">_handle_fromlist<tspan x="1542.2" dy="11.2">calls: 13,196</tspan><tspan x="1542.2" dy="11.2">time: 7.668733s</tspan></text></g></g>
<g id="c-_path_hooks"><rect class="cl" x="1820.5" y="967" width="120.5" height="124"/><text class="ct" x="1880.75" y="984.5">_path_hooks</text><g id="n-_path_hooks"><rect class="g1" x="1831" y="1031" width="100" height="49"/><text class="nt" x="1881" y="1046.7">_path_hooks<tspan x="1881" dy="11.2">calls: 101</tspan><tspan x="1881" dy="11.2">time: 0.033378s</tspan></text></g></g>
<g id="c-_path_isfile"><rect class="cl" x="2298" y="967" width="121" height="124"/><text class="ct" x="2358.5" y="984.5">_path_isfile</text><g id="n-_path_isfile"><rect class="g1" x="2308.7" y="1031" width="100.3" height="49"/><text class="nt" x="2358.85" y="1046.7">_path_isfile<tspan x="2358.85" dy="11.2">calls: 1,043</tspan><tspan x="2358.85" dy="11.2">time: 0.053967s</tspan></text></g></g>
<g id="c-_relax_case"><rect class="cl" x="2719" y="967" width="121.5" height="124"/><text class="ct" x="2779.75" y="984.5">_relax_case</text><g id="n-_relax_case"><rect class="g1" x="2729.6" y="1031" width="100.4" height="49"/><text class="nt" x="2779.8" y="1046.7">_relax_case<tspan x="2779.8" dy="11.2">calls: 1,129</tspan><tspan x="2779.8" dy="11.2">time: 0.004974s</tspan></text></g></g>
<g id="c-Size"><rect class="cl" x="2892.4" y="967" width="120.6" height="124"/><text class="ct" x="2952.7" y="984.5">Size</text><g id="n-Size"><rect class="g0" x="2903" y="1031" width="99.5" height="49"/><text class="nt" x="2952.75" y="1046.7">Size<tspan x="2952.75" dy="11.2">calls: 1</tspan><tspan x="2952.75" dy="11.2">time: 0.000023s</tspan></text></g></g>
<g id="c-_ProcessedLine"><rect class="cl" x="3023.6" y="967" width="124.2" height="124"/><text class="ct" x="3085.7" y="984.5">_ProcessedLine</text><g id="n-_ProcessedLine"><rect class="g0" x="3038" y="1031" width="99" height="49"/><text class="nt" x="3087.5" y="1046.7">_ProcessedLine<tspan x="3087.5" dy="11.2">calls: 1</tspan><tspan x="3087.5" dy="11.2">time: 0.000094s</tspan></text></g></g>
<g id="c-Attrs"><rect class="cl" x="3158" y="967" width="120" height="124"/><text class="ct" x="3218" y="984.5">Attrs</text><g id="n-Attrs"><rect class="g0" x="3168" y="1031" width="100" height="49"/><text class="nt" x="3218" y="1046.7">Attrs<tspan x="3218" dy="11.2">calls: 1</tspan><tspan x="3218" dy="11.2">time: 0.000034s</tspan></text></g></g>
<g id="c-DoneAndNotDoneFutures"><rect class="cl" x="3289" y="967" width="191" height="124"/><text class="ct" x="3384.5" y="984.5">DoneAndNotDoneFutures</text><g id="n-DoneAndNotDoneFutures"><rect class="g0" x="3314" y="1031" width="141" height="49"/><text class="nt" x="3384.5" y="1046.7">DoneAndNotDoneFutures<tspan x="3384.5" dy="11.2">calls: 1</tspan><tspan x="3384.5" dy="11.2">time: 0.000039s</tspan></text></g></g>
<g id="c-Components"><rect class="cl" x="3488.7" y="967" width="120.3" height="124"/><text class="ct" x="3548.85" y="984.5">Components</text><g id="n-Components"><rect class="g0" x="3499" y="1031" width="100.5" height="49"/><text class="nt" x="3549.25" y="1046.7">Components<tspan x="3549.25" dy="11.2">calls: 1</tspan><tspan x="3549.25" dy="11.2">time: 0.000052s</tspan></text></g></g>
<g id="c-DeprecatedOption"><rect class="cl" x="3620" y="967" width="141.6" height="124"/><text class="ct" x="3690.8" y="984.5">DeprecatedOption</text><g id="n-DeprecatedOption"><rect class="g0" x="3640" y="1031" width="106" height="49"/><text class="nt" x="3693" y="1046.7">DeprecatedOption<tspan x="3693" dy="11.2">calls: 1</tspan><tspan x="3693" dy="11.2">time: 0.000040s</tspan></text></g></g>
<g id="c-RegisteredOption"><rect class="cl" x="3771" y="967" width="136.5" height="124"/><text class="ct" x="3839.25" y="984.5">RegisteredOption</text><g id="n-RegisteredOption"><rect class="g0" x="3789" y="1031" width="102" height="49"/><text class="nt" x="3840" y="1046.7">RegisteredOption<tspan x="3840" dy="11.2">calls: 1</tspan><tspan x="3840" dy="11.2">time: 0.000030s</tspan></text></g></g>
<g id="c-Boxplot"><rect class="cl" x="3918" y="967" width="120.7" height="124"/><text class="ct" x="3978.35" y="984.5">Boxplot</text><g id="n-Boxplot"><rect class="g0" x="3928.5" y="1031" width="99.5" height="49"/><text class="nt" x="3978.25" y="1046.7">Boxplot<tspan x="3978.25" dy="11.2">calls: 1</tspan><tspan x="3978.25" dy="11.2">time: 0.000022s</tspan></text></g></g>
<g id="c-ExtType"><rect class="cl" x="4048.5" y="967" width="120.5" height="124"/><text class="ct" x="4108.75" y="984.5">ExtType</text><g id="n-ExtType"><rect class="g0" x="4059" y="1031" width="99.6" height="49"/><text class="nt" x="4108.8" y="1046.7">ExtType<tspan x="4108.8" dy="11.2">calls: 1</tspan><tspan x="4108.8" dy="11.2">time: 0.000023s</tspan></text></g></g>
<g id="c-uname_result"><rect class="cl" x="4179.7" y="967" width="120.3" height="124"/><text class="ct" x="4239.85" y="984.5">uname_result</text><g id="n-uname_result"><rect class="g0" x="4190" y="1031" width="100" height="49"/><text class="nt" x="4240" y="1046.7">uname_result<tspan x="4240" dy="11.2">calls: 1</tspan><tspan x="4240" dy="11.2">time: 0.000035s</tspan></text></g></g>
<g id="c-ModuleInfo"><rect class="cl" x="4310" y="967" width="121" height="124"/><text class="ct" x="4370.5" y="984.5">ModuleInfo</text><g id="n-ModuleInfo"><rect class="g0" x="4320.7" y="1031" width="99.3" height="49"/><text class="nt" x="4370.35" y="1046.7">ModuleInfo<tspan x="4370.35" dy="11.2">calls: 1</tspan><tspan x="4370.35" dy="11.2">time: 0.000024s</tspan></text></g></g>
<g id="c-_Version"><rect class="cl" x="4440" y="967" width="121.7" height="124"/><text class="ct" x="4500.85" y="984.5">_Version</text><g id="n-_Version"><rect class="g0" x="4451" y="1031" width="100.5" height="49"/><text class="nt" x="4501.25" y="1046.7">_Version<tspan x="4501.25" dy="11.2">calls: 1</tspan><tspan x="4501.25" dy="11.2">time: 0.000030s</tspan></text></g></g>
<g id="c-manifest_mod"><rect class="cl" x="4571" y="967" width="121" height="124"/><text class="ct" x="4631.5" y="984.5">manifest_mod</text><g id="n-manifest_mod"><rect class="g0" x="4582" y="1031" width="100" height="49"/><text class="nt" x="4632" y="1046.7">manifest_mod<tspan x="4632" dy="11.2">calls: 1</tspan><tspan x="4632" dy="11.2">time: 0.000022s</tspan></text></g></g>
<g id="c-ArgSpec"><rect class="cl" x="4701.5" y="967" width="121.5" height="124"/><text class="ct" x="4762.25" y="984.5">ArgSpec</text><g id="n-ArgSpec"><rect class="g0" x="4712" y="1031" width="100" height="49"/><text class="nt" x="4762" y="1046.7">ArgSpec<tspan x="4762" dy="11.2">calls: 1</tspan><tspan x="4762" dy="11.2">time: 0.000034s</tspan></text></g></g>
<g id="c-TokenInfo"><rect class="cl" x="4832.7" y="967" width="121.3" height="124"/><text class="ct" x="4893.35" y="984.5">TokenInfo</text><g id="n-TokenInfo"><rect class="g0" x="4843" y="1031" width="100" height="49"/><text class="nt" x="4893" y="1046.7">TokenInfo<tspan x="4893" dy="11.2">calls: 1</tspan><tspan x="4893" dy="11.2">time: 0.000061s</tspan></text></g></g>
<g id="c-Point"><rect class="cl" x="4963" y="967" width="121.7" height="124"/><text class="ct" x="5023.85" y="984.5">Point</text><g id="n-Point"><rect class="g0" x="4973.5" y="1031" width="100.5" height="49"/><text class="nt" x="5023.75" y="1046.7">Point<tspan x="5023.75" dy="11.2">calls: 1</tspan><tspan x="5023.75" dy="11.2">time: 0.000026s</tspan></text></g></g>
<g id="c-cb"><rect class="cl" x="294" y="1125" width="120.6" height="124"/><text class="ct" x="354.3" y="1142.5">cb</text><g id="n-cb"><rect class="g1" x="304.5" y="1189" width="100.3" height="49"/><text class="nt" x="354.65" y="1204.7">cb<tspan x="354.65" dy="11.2">calls: 955</tspan><tspan x="354.65" dy="11.2">time: 0.004304s</tspan></text></g></g>
<g id="c-cache_from_source"><rect class="cl" x="1019" y="1125" width="153" height="124"/><text class="ct" x="1095.5" y="1142.5">cache_from_source</text><g id="n-cache_from_source"><rect class="g1" x="1048" y="1189" width="114" height="49"/><text class="nt" x="1105" y="1204.7">cache_from_source<tspan x="1105" dy="11.2">calls: 1,368</tspan><tspan x="1105" dy="11.2">time: 0.137444s</tspan></text></g></g>
<g id="c-_get_module_lock"><rect class="cl" x="1182.8" y="1125" width="144.2" height="124"/><text class="ct" x="1254.9" y="1142.5">_get_module_lock</text><g id="n-_get_module_lock"><rect class="g1" x="1208.7" y="1189" width="107.3" height="49"/><text class="nt" x="1262.35" y="1204.7">_get_module_lock<tspan x="1262.35" dy="11.2">calls: 1,551</tspan><tspan x="1262.35" dy="11.2">time: 0.048512s</tspan></text></g></g>
<g id="c-_ModuleLock"><rect class="cl" x="1337" y="1125" width="285" height="124"/><text class="ct" x="1479.5" y="1142.5">_ModuleLock</text>
<g id="n-_ModuleLock-acquire"><rect class="g1" x="1347.6" y="1189" width="122.4" height="49"/><text class="nt" x="1408.8" y="1204.7">_ModuleLock.acquire<tspan x="1408.8" dy="11.2">calls: 1,551</tspan><tspan x="1408.8" dy="11.2">time: 0.025995s</tspan></text></g>
<g id="n-_ModuleLock-release"><rect class="g1" x="1490" y="1189" width="120.7" height="49"/><text class="nt" x="1550.35" y="1204.7">_ModuleLock.release<tspan x="1550.35" dy="11.2">calls: 1,551</tspan><tspan x="1550.35" dy="11.2">time: 0.021645s</tspan></text></g></g>
<g id="c-_compile_bytecode"><rect class="cl" x="1671.7" y="1125" width="150.3" height="124"/><text class="ct" x="1746.85" y="1142.5">_compile_bytecode</text><g id="n-_compile_bytecode"><rect class="g1" x="1695.6" y="1189" width="112.4" height="49"/><text class="nt" x="1751.8" y="1204.7">_compile_bytecode<tspan x="1751.8" dy="11.2">calls: 684</tspan><tspan x="1751.8" dy="11.2">time: 0.126477s</tspan></text></g></g>
<g id="c-path_hook_for_FileFinder"><rect class="cl" x="1970.6" y="1125" width="192.2" height="124"/><text class="ct" x="2066.7" y="1142.5">path_hook_for_FileFinder</text><g id="n-path_hook_for_FileFinder"><rect class="g0" x="1983" y="1189" width="142.6" height="49"/><text class="nt" x="2054.3" y="1204.7">path_hook_for_FileFinder<tspan x="2054.3" dy="11.2">calls: 101</tspan><tspan x="2054.3" dy="11.2">time: 0.028504s</tspan></text></g></g>
<g id="c-_validate_bytecode_header"><rect class="cl" x="2173.3" y="1125" width="205.6" height="124"/><text class="ct" x="2276.1" y="1142.5">_validate_bytecode_header</text><g id="n-_validate_bytecode_header"><rect class="g1" x="2183" y="1189" width="187" height="49"/><text class="nt" x="2276.5" y="1204.7">_validate_bytecode_header<tspan x="2276.5" dy="11.2">calls: 684</tspan><tspan x="2276.5" dy="11.2">time: 0.058981s</tspan></text></g></g>
<g id="c-Combine"><rect class="cl" x="3317.5" y="1125" width="134.5" height="124"/><text class="ct" x="3384.75" y="1142.5">Combine</text><g id="n-Combine"><rect class="g1" x="3328.8" y="1189" width="112.9" height="49"/><text class="nt" x="3385.25" y="1204.7">Combine.postParse<tspan x="3385.25" dy="11.2">calls: 120</tspan><tspan x="3385.25" dy="11.2">time: 0.029053s</tspan></text></g></g>
<g id="c-_verbose_message"><rect class="cl" x="1737" y="1283" width="149.4" height="124"/><text class="ct" x="1811.7" y="1300.5">_verbose_message</text><g id="n-_verbose_message"><rect class="g3" x="1756" y="1348" width="111.5" height="49"/><text class="nt" x="1811.75" y="1363.7">_verbose_message<tspan x="1811.75" dy="11.2">calls: 6,547</tspan><tspan x="1811.75" dy="11.2">time: 0.027647s</tspan></text></g></g>
<g id="c-_path_isdir"><rect class="cl" x="1993.7" y="1283" width="120.7" height="124"/><text class="ct" x="2054.05" y="1300.5">_path_isdir</text><g id="n-_path_isdir"><rect class="g0" x="2004" y="1348" width="100.6" height="49"/><text class="nt" x="2054.3" y="1363.7">_path_isdir<tspan x="2054.3" dy="11.2">calls: 101</tspan><tspan x="2054.3" dy="11.2">time: 0.004948s</tspan></text></g></g>
<g id="c-_r_long"><rect class="cl" x="2214.7" y="1283" width="120" height="124"/><text class="ct" x="2274.7" y="1300.5">_r_long</text><g id="n-_r_long"><rect class="g2" x="2225" y="1348" width="98.5" height="49"/><text class="nt" x="2274.25" y="1363.7">_r_long<tspan x="2274.25" dy="11.2">calls: 1,368</tspan><tspan x="2274.25" dy="11.2">time: 0.006303s</tspan></text></g></g>
<g id="c-_path_join"><rect class="cl" x="2480" y="1283" width="120" height="124"/><text class="ct" x="2540" y="1300.5">_path_join</text><g id="n-_path_join"><rect class="g3" x="2489.7" y="1348" width="99.6" height="49"/><text class="nt" x="2539.5" y="1363.7">_path_join<tspan x="2539.5" dy="11.2">calls: 6,255</tspan><tspan x="2539.5" dy="11.2">time: 0.176665s</tspan></text></g></g>
<g id="c-_path_split"><rect class="cl" x="2610" y="1283" width="120" height="124"/><text class="ct" x="2670" y="1300.5">_path_split</text><g id="n-_path_split"><rect class="g2" x="2621" y="1348" width="99.5" height="49"/><text class="nt" x="2670.75" y="1363.7">_path_split<tspan x="2670.75" dy="11.2">calls: 1,369</tspan><tspan x="2670.75" dy="11.2">time: 0.012330s</tspan></text></g></g>
<g id="c-setcomp"><rect class="cl" x="2741.6" y="1283" width="119.9" height="124"/><text class="ct" x="2801.55" y="1300.5">&lt;setcomp&gt;</text><g id="n-setcomp"><rect class="g1" x="2751" y="1348" width="100" height="49"/><text class="nt" x="2801" y="1363.7">&lt;setcomp&gt;<tspan x="2801" dy="11.2">calls: 101</tspan><tspan x="2801" dy="11.2">time: 0.002788s</tspan></text></g></g>
<g id="c-spec_from_file_location"><rect class="cl" x="2922.5" y="1283" width="180.3" height="124"/><text class="ct" x="3012.65" y="1300.5">spec_from_file_location</text><g id="n-spec_from_file_location"><rect class="g1" x="2959" y="1348" width="132.6" height="49"/><text class="nt" x="3025.3" y="1363.7">spec_from_file_location<tspan x="3025.3" dy="11.2">calls: 729</tspan><tspan x="3025.3" dy="11.2">time: 0.038460s</tspan></text></g></g>
<g id="c-ParseResults"><rect class="cl" x="3112.7" y="1283" width="430" height="124"/><text class="ct" x="3327.7" y="1300.5">ParseResults</text>
<g id="n-ParseResults-asList"><rect class="g0" x="3123" y="1348" width="111.7" height="49"/><text class="nt" x="3178.85" y="1363.7">ParseResults.asList<tspan x="3178.85" dy="11.2">calls: 2</tspan><tspan x="3178.85" dy="11.2">time: 0.000082s</tspan></text></g>
<g id="n-ParseResults-copy"><rect class="g0" x="3257" y="1348" width="107" height="49"/><text class="nt" x="3310.5" y="1363.7">ParseResults.copy<tspan x="3310.5" dy="11.2">calls: 356</tspan><tspan x="3310.5" dy="11.2">time: 0.018395s</tspan></text></g>
<g id="n-ParseResults-_asStringList"><rect class="g0" x="3387" y="1348" width="145" height="49"/><text class="nt" x="3459.5" y="1363.7">ParseResults._asStringList<tspan x="3459.5" dy="11.2">calls: 120</tspan><tspan x="3459.5" dy="11.2">time: 0.001696s</tspan></text></g></g>
<g id="c-_path_is_mode_type"><rect class="cl" x="1977" y="1442" width="161" height="124"/><text class="ct" x="2057.5" y="1459.5">_path_is_mode_type</text><g id="n-_path_is_mode_type"><rect class="g1" x="1994" y="1506" width="121" height="49"/><text class="nt" x="2054.5" y="1521.7">_path_is_mode_type<tspan x="2054.5" dy="11.2">calls: 1,144</tspan><tspan x="2054.5" dy="11.2">time: 0.038393s</tspan></text></g></g>
<g id="c-listcomp"><rect class="cl" x="2797.7" y="1442" width="121.3" height="124"/><text class="ct" x="2858.35" y="1459.5">&lt;listcomp&gt;</text><g id="n-listcomp"><rect class="g3" x="2808" y="1506" width="101" height="49"/><text class="nt" x="2858.5" y="1521.7">&lt;listcomp&gt;<tspan x="2858.5" dy="11.2">calls: 6,257</tspan><tspan x="2858.5" dy="11.2">time: 0.061051s</tspan></text></g></g>
<g id="c-_path_stat"><rect class="cl" x="1925" y="1600" width="120.6" height="124"/><text class="ct" x="1985.3" y="1617.5">_path_stat</text><g id="n-_path_stat"><rect class="g2" x="1934.8" y="1664" width="101" height="49"/><text class="nt" x="1985.3" y="1679.7">_path_stat<tspan x="1985.3" dy="11.2">calls: 2,957</tspan><tspan x="1985.3" dy="11.2">time: 0.040166s</tspan></text></g></g>
<g id="footer"><text class="ft" x="2981" y="1748">Generated by Python Call Graph v1.0.1</text><text class="ft" x="2981" y="1759">http://pycallgraph.slowchop.com</text></g>
</svg>
